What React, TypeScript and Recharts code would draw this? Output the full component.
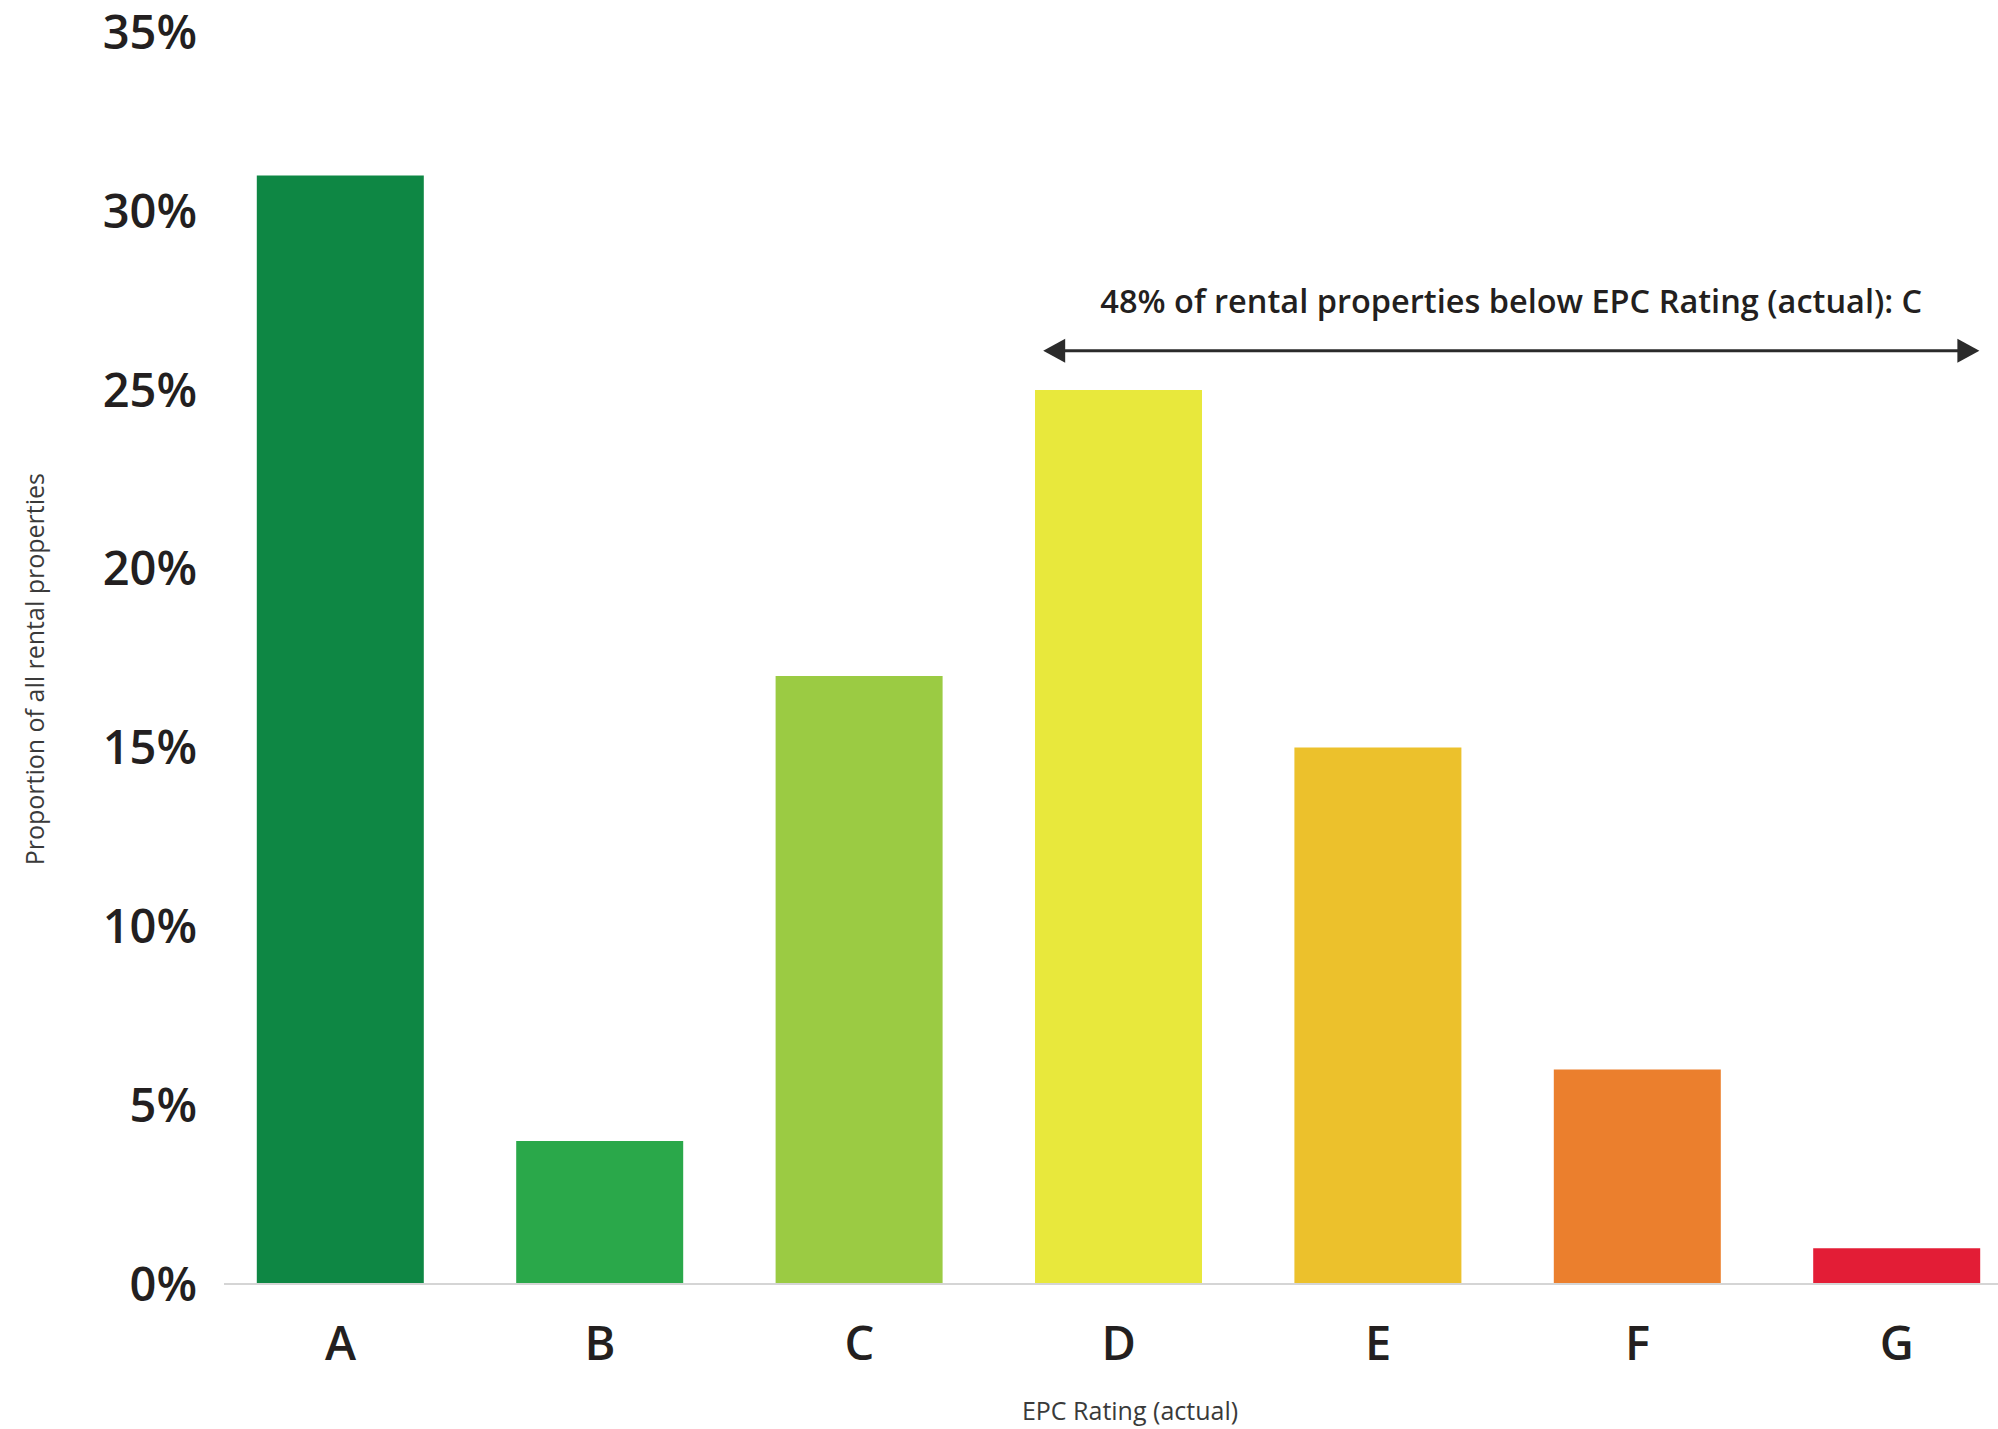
import { Bar, BarChart, Cell, Label, ReferenceLine, XAxis, YAxis } from "recharts";

const RATINGS = ["A", "B", "C", "D", "E", "F", "G"];
const SHARE = [31, 4, 17, 25, 15, 6, 1];
const RATING_COLORS = ["#0e8744", "#2aa84a", "#9bcb43", "#e8e83c", "#ecc12c", "#eb7f2d", "#e31d36"];
const Y_TICKS = [0, 5, 10, 15, 20, 25, 30, 35];

const NOTE_TEXT = "48% of rental properties below EPC Rating (actual): C";
const NOTE_FROM = "D";
const NOTE_TO = "G";
const NOTE_LEVEL = 26.1;

const data = RATINGS.map((name, i) => ({ name, value: SHARE[i], color: RATING_COLORS[i] }));

const FONT = "'Open Sans', 'Noto Sans', sans-serif";
const INK = "#231f20";
const BAR_SIZE = 167;

const tickStyle = { fontSize: 47, fontFamily: FONT, fontWeight: 600, fill: INK };

// double-headed arrow spanning the D..G bars, with the caption above it
function NoteArrow(props: any) {
  const { x1, x2, y1 } = props;
  const left = x1 - BAR_SIZE / 2 + 8;
  const right = x2 + BAR_SIZE / 2 - 1;
  const y = y1;
  const head = 22;
  const half = 12;
  return (
    <g>
      <line x1={left + head - 2} x2={right - head + 2} y1={y} y2={y} stroke="#2b2b2b" strokeWidth={3} />
      <polygon points={`${left},${y} ${left + head},${y - half} ${left + head},${y + half}`} fill="#2b2b2b" />
      <polygon points={`${right},${y} ${right - head},${y - half} ${right - head},${y + half}`} fill="#2b2b2b" />
      <text
        x={(left + right) / 2}
        y={y - 38}
        textAnchor="middle"
        fontFamily={FONT}
        fontWeight={600}
        fontSize={32.5}
        fill={INK}
      >
        {NOTE_TEXT}
      </text>
    </g>
  );
}

function YTitle({ viewBox }: any) {
  const cy = viewBox.y + viewBox.height / 2 + 11;
  return (
    <text
      x={35}
      y={cy}
      dy="0.35em"
      transform={`rotate(-90, 35, ${cy})`}
      textAnchor="middle"
      fontFamily={FONT}
      fontSize={25}
      fill="#3a3a3a"
    >
      Proportion of all rental properties
    </text>
  );
}

function XTitle({ viewBox }: any) {
  return (
    <text
      x={viewBox.x + viewBox.width / 2 + 19}
      y={viewBox.y + 136}
      textAnchor="middle"
      fontFamily={FONT}
      fontSize={25}
      fill="#3a3a3a"
    >
      EPC Rating (actual)
    </text>
  );
}

export default function App() {
  return (
    <div
      style={{
        position: "absolute",
        left: 0,
        top: 0,
        width: 1998,
        height: 1429,
        overflow: "hidden",
        background: "#fff",
      }}
    >
      <BarChart width={1998} height={1429} data={data} margin={{ top: 32.4, right: 0, bottom: 0, left: 0 }}>
        <XAxis
          dataKey="name"
          height={145}
          padding={{ left: -13.2, right: -28.6 }}
          axisLine={{ stroke: "#d5d5d5", strokeWidth: 2 }}
          tickLine={false}
          tickSize={0}
          tickMargin={43}
          tick={tickStyle}
          interval={0}
        >
          <Label content={<XTitle />} />
        </XAxis>
        <YAxis
          width={224}
          domain={[0, 35]}
          ticks={Y_TICKS}
          tickFormatter={(v) => `${v}%`}
          axisLine={false}
          tickLine={false}
          tickSize={0}
          tickMargin={27}
          tick={tickStyle}
          interval={0}
        >
          <Label content={<YTitle />} />
        </YAxis>
        <Bar dataKey="value" barSize={BAR_SIZE} isAnimationActive={false}>
          {data.map((d) => (
            <Cell key={d.name} fill={d.color} />
          ))}
        </Bar>
        <ReferenceLine
          segment={[
            { x: NOTE_FROM, y: NOTE_LEVEL },
            { x: NOTE_TO, y: NOTE_LEVEL },
          ]}
          shape={<NoteArrow />}
        />
      </BarChart>
    </div>
  );
}
